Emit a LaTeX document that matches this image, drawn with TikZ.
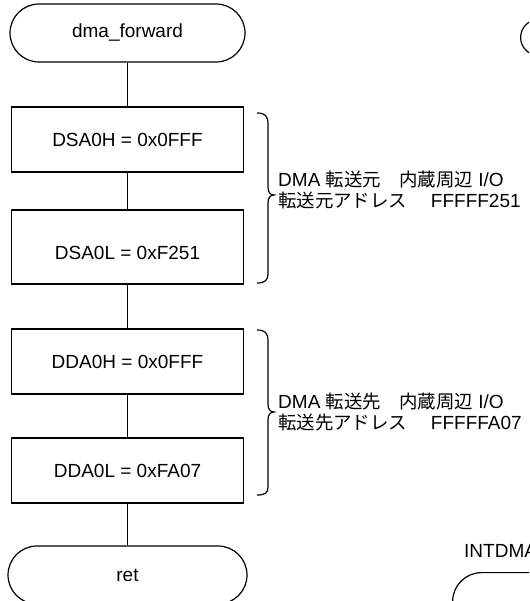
\documentclass[tikz,border=0pt]{standalone}
\usepackage{fontspec}
\setmainfont{Liberation Sans}
\newfontfamily\jp[Scale=0.97]{Noto Sans CJK JP}
\begin{document}
\begin{tikzpicture}[x=1pt,y=-1pt,
  every node/.style={font=\fontsize{19}{20.5}\selectfont},
  term/.style={draw, line width=1.2pt, rounded corners=29pt, minimum width=235pt, minimum height=58pt, inner sep=0pt},
  proc/.style={draw, line width=1.2pt, minimum width=232pt, inner sep=0pt},
  conn/.style={line width=1.2pt},
  brc/.style={line width=1.2pt},
  note/.style={anchor=west, align=left, inner sep=0pt}]
\clip (0,0) rectangle (529,601);
% main flow
\node[term] (start) at (127.5,33) {dma\_forward};
\node[proc, minimum height=65pt] (b1) at (127.5,139.5) {DSA0H = 0x0FFF};
\node[proc, minimum height=74pt, label={[yshift=-6pt]center:DSA0L = 0xF251}] (b2) at (127.5,247) {};
\node[proc, minimum height=65pt] (b3) at (127.5,361.5) {DDA0H = 0x0FFF};
\node[proc, minimum height=65pt] (b4) at (127.5,470.5) {DDA0L = 0xFA07};
\node[term, minimum width=239pt] (ret) at (127.5,575) {ret};
\draw[conn] (start.south) -- (b1.north);
\draw[conn] (b1.south) -- (b2.north);
\draw[conn] (b2.south) -- (b3.north);
\draw[conn] (b3.south) -- (b4.north);
\draw[conn] (b4.south) -- (ret.north);
% braces
\draw[brc] (257,113) .. controls (265,113) and (268,116) .. (268,124) -- (268,187)
  .. controls (268,192) and (270,195) .. (274,195)
  .. controls (270,195) and (268,198) .. (268,203) -- (268,274)
  .. controls (268,280) and (265,283) .. (257,283);
\draw[brc] (257,330) .. controls (265,330) and (268,333) .. (268,341) -- (268,404)
  .. controls (268,409) and (270,412) .. (274,412)
  .. controls (270,412) and (268,415) .. (268,420) -- (268,487)
  .. controls (268,493) and (265,495) .. (257,495);
% notes
\node[note] (n1) at (278,190) {DMA {\jp 転送元　内蔵周辺} I/O\\{\jp 転送元アドレス　} FFFFF251};
\node[note] (n2) at (278,412) {DMA {\jp 転送先　内蔵周辺} I/O\\{\jp 転送先アドレス　} FFFFFA07};
% partial shapes at right
\node[draw, line width=1.2pt, rounded corners=18pt, minimum width=100pt, minimum height=36pt, anchor=west, inner sep=0pt] (rtop) at (520,37.5) {};
\node[anchor=west, inner sep=0pt] (intdma) at (464,551) {INTDMA};
\node[term, anchor=north west] (rbot) at (452,572) {};
\end{tikzpicture}
\end{document}
